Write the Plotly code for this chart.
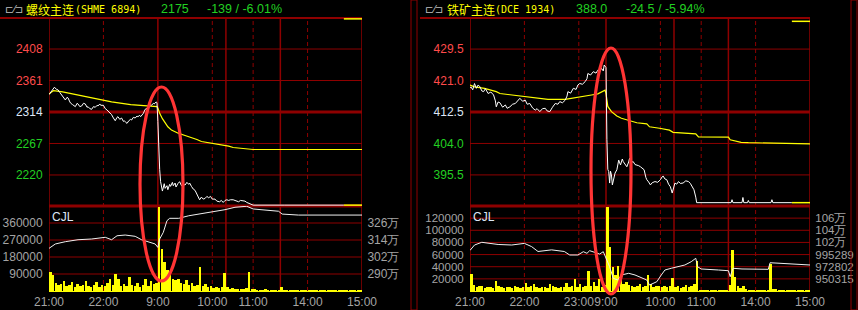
import plotly.graph_objects as go

W, H = 858, 310

# ---------------- LEFT PANEL DATA : 螺纹主连 (SHME 6894) ----------------
L_TITLE = "螺纹主连"
L_CODE = "(SHME 6894)"
L_LAST = "2175"
L_CHG = "-139 / -6.01%"
L_PREV = 2314
L_PRICE_TICKS = [2220, 2267, 2314, 2361, 2408]
L_PCT_TEXT = ["-4.06%", "-2.03%", "0.00%", "+2.03%", "+4.06%"]
L_VOL_TICKS = [90000, 180000, 270000, 360000]
L_OI_TICKS = [2900000, 3020000, 3140000, 3260000]
L_OI_TEXT = ["290万", "302万", "314万", "326万"]
L_XTICKS = [0, 60, 120, 180, 225, 285, 345]
L_XTEXT = ["21:00", "22:00", "9:00", "10:00", "11:00", "14:00", "15:00"]
L_SOLID = [0, 120, 195, 255, 345]
L_DASH = [60, 180, 225, 285]
L_LIMIT_T = [325, 345]
L_LIMIT_UP = 2453
L_LIMIT_DN = 2175

L_PRICE = [(0,2340),(1,2342),(3,2346),(6,2351),(8,2348),(10,2347),(12,2343),(14,2339),(16,2336),(18,2332),
           (20,2336),(21,2335),(23,2329),(24,2327),(26,2325),(29,2322),(31,2327),(32,2326),(34,2322),(36,2323),
           (38,2327),(40,2326),(42,2321),(43,2322),(45,2319),(47,2318),(49,2322),(51,2321),(53,2324),(54,2323),
           (56,2326),(57,2324),(60,2324),(62,2319),(64,2317),(66,2314),(68,2311),(69,2310),(71,2305),(73,2301),
           (75,2306),(76,2307),(78,2303),(80,2305),(82,2300),(83,2301),(85,2298),(86,2297),(88,2301),(90,2303),
           (91,2302),(93,2306),(95,2305),(97,2308),(98,2307),(100,2309),(101,2307),(103,2311),(104,2312),(106,2318),
           (108,2320),(110,2321),(112,2325),(113,2324),(115,2327),(116,2326),(118,2329),(119,2328),
           (120,2300),(121,2240),(122,2228),(123,2210),(124,2200),(125,2196),(127,2207),(128,2200),(130,2204),
           (131,2198),(133,2206),(134,2203),(136,2209),(137,2204),(139,2208),(140,2202),(142,2207),(144,2210),
           (146,2204),(148,2206),(150,2205),(152,2209),(154,2206),(155,2208),(157,2203),(159,2199),(161,2197),
           (163,2191),(166,2183),(168,2187),(170,2184),(172,2185),(174,2188),(176,2186),(178,2188),(180,2184),
           (183,2184),(185,2181),(188,2180),(190,2182),(192,2179),(194,2182),(196,2183),(198,2182),(200,2183),
           (203,2183),(205,2182),(207,2181),(209,2180),(211,2182),(214,2182),(216,2181),(218,2179),(220,2178),
           (222,2177),(225,2175),(260,2175),(300,2175),(325,2175)]

L_AVG = [(0,2341),(5,2346),(15,2344),(32,2339),(50,2334),(69,2329),(90,2325),(106,2323),(119,2322),(120,2320),
         (122,2312),(125,2304),(128,2297),(131,2292),(135,2287),(139,2284),(143,2282),(150,2279),(157,2276),
         (163,2273),(168,2270),(177,2268),(185,2266),(192,2265),(198,2263),(203,2261),(210,2260),(216,2260),
         (220,2259),(225,2258),(345,2258)]

L_OI = [(0,3081000),(7,3112000),(18,3128000),(32,3142000),(47,3147000),(62,3159000),(69,3142000),(75,3170000),
        (84,3175000),(95,3166000),(102,3142000),(109,3128000),(117,3112000),(120,3088000),(122,3147000),
        (126,3194000),(130,3276000),(133,3293000),(143,3293000),(154,3311000),(165,3323000),(179,3335000),
        (194,3354000),(205,3371000),(218,3378000),(225,3359000),(238,3352000),(253,3343000),(257,3323000),
        (275,3316000),(345,3316000)]

# volume, one value per 3-minute slot
L_VOL = [102000, 85000, 40000, 30000, 35000, 55000, 25000, 30000, 48000, 22000,
         35000, 28000, 30000, 55000, 25000, 20000, 32000, 48000, 22000, 30000,
         25000, 40000, 65000, 30000, 90000, 62000, 28000, 35000, 25000, 72000,
         30000, 26000, 45000, 20000, 30000, 62000, 28000, 55000, 35000, 40000,
         446000, 222000, 155000, 111000, 85000, 65000, 58000, 62000, 40000, 35000,
         58000, 30000, 45000, 25000, 30000, 125000, 28000, 38000, 22000, 25000,
         18000, 20000, 15000, 22000, 97000, 20000, 12000, 18000, 10000, 12000,
         8000, 10000, 15000, 102000, 6000, 8000, 5000, 4000, 3000, 9000,
         3000, 2000, 2000, 2000, 1000, 20000, 1500, 1000, 1000, 1000,
         1000, 1200, 1000, 1000, 1000, 1000, 1000, 1000, 1000, 1000,
         1000, 1000, 1000, 1000, 1000, 1000, 1000, 1000, 1000, 1000,
         1000, 1000, 1000, 1000, 1000]

# ---------------- RIGHT PANEL DATA : 铁矿主连 (DCE 1934) ----------------
R_TITLE = "铁矿主连"
R_CODE = "(DCE 1934)"
R_LAST = "388.0"
R_CHG = "-24.5 / -5.94%"
R_PREV = 412.5
R_PRICE_TICKS = [395.5, 404.0, 412.5, 421.0, 429.5]
R_PRICE_TEXT = ["395.5", "404.0", "412.5", "421.0", "429.5"]
R_PCT_TEXT = ["-4.12%", "-2.06%", "0.00%", "+2.06%", "+4.12%"]
R_VOL_TICKS = [20000, 40000, 60000, 80000, 100000, 120000]
R_OI_TICKS = [950315, 972802, 995289, 1017776, 1040263, 1062750]
R_OI_TEXT = ["950315", "972802", "995289", "102万", "104万", "106万"]
R_XTICKS = [0, 60, 120, 150, 210, 255, 315, 375]
R_XTEXT = ["21:00", "22:00", "23:00", "9:00", "10:00", "11:00", "14:00", "15:00"]
R_SOLID = [0, 150, 225, 285, 375]
R_DASH = [60, 120, 210, 255, 315]
R_LIMIT_T = [355, 375]
R_LIMIT_UP = 437.0
R_LIMIT_DN = 388.0

R_PRICE = [(0,419.0),(1,419.3),(3,418.5),(5,420.2),(7,418.9),(9,419.8),(11,419.3),(13,418.2),(15,418.0),
           (17,418.8),(20,417.5),(23,417.9),(26,417.1),(28,415.5),(29,413.9),(31,415.2),(33,415.0),(36,413.8),
           (39,414.4),(41,413.5),(44,413.9),(47,414.6),(50,414.8),(53,415.8),(55,416.2),(58,415.4),(61,415.7),
           (63,414.6),(66,414.8),(69,413.6),(72,413.0),(74,413.4),(77,412.6),(80,413.4),(83,413.5),(85,412.8),
           (88,412.6),(91,413.8),(94,414.8),(97,414.6),(99,415.3),(102,415.0),(105,415.7),(107,416.8),(108,418.0),
           (111,417.6),(114,418.9),(117,418.6),(119,419.8),(121,420.2),(124,420.0),(127,420.7),(129,421.5),
           (130,422.9),(133,422.5),(136,423.4),(139,423.0),(141,423.8),(143,423.4),(145,424.3),(147,423.6),
           (148,425.2),(150,424.5),(151,405.0),(152,397.0),(153,396.4),(154,393.3),(155,396.5),(156,395.5),
           (157,392.8),(158,394.2),(159,395.0),(160,396.0),(162,396.9),(164,399.5),(166,398.2),(168,399.8),
           (169,399.1),(171,398.5),(173,397.7),(175,399.0),(176,400.0),(178,398.9),(180,399.1),(182,398.3),
           (184,398.2),(186,398.0),(188,397.7),(190,397.2),(192,396.9),(194,394.8),(195,394.2),(197,393.6),
           (199,392.8),(201,393.4),(204,393.7),(207,393.5),(210,394.2),(212,395.0),(213,395.2),(215,394.4),
           (217,394.2),(219,393.0),(221,392.3),(223,390.6),(224,391.8),(226,393.3),(228,393.0),(230,393.7),
           (232,393.2),(235,393.3),(238,393.9),(241,393.7),(243,393.2),(244,392.8),(246,391.9),(247,391.5),
           (249,389.5),(250,388.0),(288,388.0),(289,388.8),(290,388.0),(300,388.0),(301,389.4),(302,388.0),
           (306,388.0),(307,388.6),(308,388.0),(332,388.0),(333,388.8),(334,388.0),(355,388.0)]

R_AVG = [(0,419.8),(5,419.3),(16,418.9),(29,418.0),(33,417.5),(53,416.9),(72,416.2),(86,415.9),(105,415.9),
         (119,416.4),(134,417.1),(141,417.4),(149,418.4),(150,417.5),(151,415.7),(152,414.0),(156,412.6),
         (162,411.4),(167,410.8),(176,410.2),(184,409.6),(195,409.3),(198,408.5),(209,408.1),(220,407.6),
         (224,407.0),(239,406.8),(249,406.6),(252,405.8),(285,405.7),(287,405.0),(299,404.3),(307,404.2),
         (330,404.1),(331,403.9),(375,403.9)]

R_OI = [(0,1003000),(1,1005000),(5,1013000),(13,1018000),(20,1016000),(31,1014000),(46,1013000),(60,1016000),
        (68,1010000),(75,1001000),(90,1004000),(104,1001000),(110,994500),(119,994500),(125,1000600),
        (129,997600),(132,1002500),(138,998800),(143,996300),(147,1000600),(150,988400),(154,972800),
        (158,951300),(163,948200),(167,957500),(175,960600),(182,957500),(189,953200),(195,948200),
        (198,938900),(206,945000),(211,957500),(215,966700),(222,969900),(230,972800),(237,976000),
        (244,982100),(249,988400),(251,972800),(255,968600),(274,966700),(285,965400),(287,954300),
        (290,969900),(300,968600),(329,968000),(331,980200),(375,976000)]

R_VOL = [28000, 10000, 6000, 9000, 8000, 5000, 6000, 7000, 5000, 17000,
         9000, 6000, 5000, 7000, 6000, 5000, 8000, 6000, 5000, 7000,
         13000, 6000, 8000, 12000, 6000, 5000, 7000, 6000, 5000, 11000,
         8000, 6000, 5000, 7000, 6000, 14000, 7000, 8000, 20000, 6000,
         12000, 7000, 9000, 33000, 8000, 15000, 9000, 20000, 7000, 10000,
         139000, 73000, 40000, 26000, 42000, 18000, 12000, 15000, 10000, 9000,
         7000, 8000, 12000, 6000, 9000, 26000, 11000, 7000, 9000, 8000,
         6000, 9000, 7000, 8000, 21000, 6000, 8000, 5000, 7000, 10000,
         6000, 8000, 12000, 50000, 1500, 1000, 1000, 800, 1000, 800,
         1000, 800, 1000, 800, 1000, 10000, 67000, 23000, 8000, 5000,
         9000, 3000, 1000, 1000, 800, 1000, 800, 1000, 800, 1000,
         45000, 4000, 3000, 800, 600, 600, 600, 600, 600, 600,
         600, 600, 600, 600, 600]

# ---------------- STYLE ----------------
BG = "#000000"
GRID = "#8e0000"
RED = "#ff4b4b"
GREEN = "#22d022"
WHITE_T = "#dde6f6"
GRAY = "#a4a4a4"
YELLOW = "#ffff00"
FONT = "Liberation Sans"
SLOT = 3

def px_x(p):
    return p / W

def px_y(p):
    return 1 - p / H

def colored(s, c):
    return f"<span style='color:{c}'>{s}</span>"

fig = go.Figure()

panels = [
    dict(price=L_PRICE, avg=L_AVG, oi=L_OI, vol=L_VOL, prev=L_PREV, pticks=L_PRICE_TICKS,
         ptext=[str(v) for v in L_PRICE_TICKS], pct=L_PCT_TEXT, vticks=L_VOL_TICKS,
         oticks=L_OI_TICKS, otext=L_OI_TEXT, xt=L_XTICKS, xtt=L_XTEXT, solid=L_SOLID, dash=L_DASH,
         lim_t=L_LIMIT_T, lim_up=L_LIMIT_UP, lim_dn=L_LIMIT_DN, xr=345, yr=(2173.7, 2454.3),
         vr=(0, 450000), orr=(2780000, 3380000), dom=(49, 362), frame=(0, 362), vfs=12,
         ax=("x", "y", "x2", "y2", "y5", "y7"),
         title=L_TITLE, code=L_CODE, last=L_LAST, chg=L_CHG, hx=(3, 24, 73, 159, 205)),
    dict(price=R_PRICE, avg=R_AVG, oi=R_OI, vol=R_VOL, prev=R_PREV, pticks=R_PRICE_TICKS,
         ptext=R_PRICE_TEXT, pct=R_PCT_TEXT, vticks=R_VOL_TICKS,
         oticks=R_OI_TICKS, otext=R_OI_TEXT, xt=R_XTICKS, xtt=R_XTEXT, solid=R_SOLID, dash=R_DASH,
         lim_t=R_LIMIT_T, lim_up=R_LIMIT_UP, lim_dn=R_LIMIT_DN, xr=375, yr=(387.1, 437.9),
         vr=(0, 140000), orr=(927828, 1085237), dom=(470, 810), frame=(420, 810), vfs=11.5,
         ax=("x3", "y3", "x4", "y4", "y6", "y8"),
         title=R_TITLE, code=R_CODE, last=R_LAST, chg=R_CHG, hx=(423, 445, 493, 574, 624)),
]

UP_DOM = [px_y(206), px_y(18)]
VOL_DOM = [px_y(291), px_y(206)]

shapes = []
annotations = []
layout_axes = {}

def axname(a):
    return a.replace("x", "xaxis").replace("y", "yaxis")

HIDE_TICK = dict(ticks="outside", tickcolor="rgba(0,0,0,0)", showgrid=False, zeroline=False,
                 automargin=False, fixedrange=True)

for P in panels:
    xa, ya, xv, yv, yo, yp = P["ax"]
    xdom = [px_x(P["dom"][0]), px_x(P["dom"][1])]

    pt = [p[0] for p in P["price"]]
    pv = [p[1] for p in P["price"]]
    at = [p[0] for p in P["avg"]]
    av = [p[1] for p in P["avg"]]
    ot = [p[0] for p in P["oi"]]
    ov = [p[1] for p in P["oi"]]
    vt = [i * SLOT + SLOT / 2 for i in range(len(P["vol"]))]

    fig.add_trace(go.Bar(x=vt, y=P["vol"], xaxis=xv, yaxis=yv, width=2.7,
                         marker=dict(color=YELLOW, line=dict(width=0)), showlegend=False))
    fig.add_trace(go.Scatter(x=ot, y=ov, xaxis=xv, yaxis=yo, mode="lines",
                             line=dict(color="#f0f0f0", width=1), showlegend=False))
    fig.add_trace(go.Scatter(x=at, y=av, xaxis=xa, yaxis=ya, mode="lines",
                             line=dict(color=YELLOW, width=1.2), showlegend=False))
    fig.add_trace(go.Scatter(x=pt, y=pv, xaxis=xa, yaxis=ya, mode="lines",
                             line=dict(color="#ffffff", width=1), showlegend=False))
    for lv in (P["lim_up"], P["lim_dn"]):
        fig.add_trace(go.Scatter(x=P["lim_t"], y=[lv, lv], xaxis=xa, yaxis=ya, mode="lines",
                                 line=dict(color=YELLOW, width=1.5), showlegend=False))

    tcol = [RED if v > P["prev"] else (WHITE_T if v == P["prev"] else GREEN) for v in P["pticks"]]
    tickfont = dict(family=FONT, size=12, color=GRAY)
    vfont = dict(family=FONT, size=P["vfs"], color=GRAY)

    layout_axes[axname(xa)] = dict(domain=xdom, range=[0, P["xr"]], anchor=ya, showticklabels=False,
                                   **HIDE_TICK)
    layout_axes[axname(xv)] = dict(domain=xdom, range=[0, P["xr"]], anchor=yv, matches=xa,
                                   tickvals=P["xt"], ticktext=P["xtt"], tickfont=tickfont,
                                   tickangle=0, ticklen=0, showline=True,
                                   linecolor=YELLOW, linewidth=1, **HIDE_TICK)
    layout_axes[axname(ya)] = dict(domain=UP_DOM, range=list(P["yr"]), anchor=xa,
                                   tickvals=P["pticks"],
                                   ticktext=[colored(t, c) for t, c in zip(P["ptext"], tcol)],
                                   tickfont=tickfont, ticklen=3, **HIDE_TICK)
    layout_axes[axname(yp)] = dict(overlaying=ya, anchor=xa, side="right", range=list(P["yr"]),
                                   tickvals=P["pticks"],
                                   ticktext=[colored(t, c) for t, c in zip(P["pct"], tcol)],
                                   tickfont=tickfont, ticklen=2, **HIDE_TICK)
    layout_axes[axname(yv)] = dict(domain=VOL_DOM, range=list(P["vr"]), anchor=xv,
                                   tickvals=P["vticks"], ticktext=[str(v) for v in P["vticks"]],
                                   tickfont=vfont, ticklen=3, **HIDE_TICK)
    layout_axes[axname(yo)] = dict(overlaying=yv, anchor=xv, side="right", range=list(P["orr"]),
                                   tickvals=P["oticks"], ticktext=P["otext"], tickfont=vfont,
                                   ticklen=2, **HIDE_TICK)

    # horizontal grid in price pane
    for v in P["pticks"]:
        shapes.append(dict(type="line", layer="below", xref=f"{xa} domain", x0=0, x1=1,
                           yref=ya, y0=v, y1=v,
                           line=dict(color=GRID, width=3 if v == P["prev"] else 1)))
    # horizontal grid in volume pane
    for v in P["vticks"]:
        shapes.append(dict(type="line", layer="below", xref=f"{xv} domain", x0=0, x1=1,
                           yref=yv, y0=v, y1=v, line=dict(color=GRID, width=1)))
    # pane separator
    shapes.append(dict(type="line", layer="below", xref=f"{xa} domain", x0=0, x1=1,
                       yref=f"{ya} domain", y0=0, y1=0, line=dict(color=GRID, width=3)))
    # top frame line
    shapes.append(dict(type="line", layer="below", xref="paper", x0=px_x(P["frame"][0]),
                       x1=px_x(P["frame"][1]), yref="paper", y0=px_y(18), y1=px_y(18),
                       line=dict(color=GRID, width=2)))
    # vertical session lines
    for t in P["solid"]:
        shapes.append(dict(type="line", layer="below", xref=xa, x0=t, x1=t, yref="paper",
                           y0=px_y(291), y1=px_y(18), line=dict(color=GRID, width=1.5)))
    for t in P["dash"]:
        shapes.append(dict(type="line", layer="below", xref=xa, x0=t, x1=t, yref="paper",
                           y0=px_y(291), y1=px_y(18), line=dict(color=GRID, width=1, dash="4px,3px")))

    # header
    hx = P["hx"]
    hy = px_y(9)
    annotations += [
        dict(x=px_x(hx[0]), y=hy, xref="paper", yref="paper", xanchor="left", yanchor="middle",
             text="⊏⁄⊐", showarrow=False, font=dict(family="DejaVu Sans", size=10, color="#c0c0c0")),
        dict(x=px_x(hx[1]), y=hy, xref="paper", yref="paper", xanchor="left", yanchor="middle",
             text=P["title"], showarrow=False,
             font=dict(family="Noto Sans CJK SC", size=12, color=YELLOW)),
        dict(x=px_x(hx[2]), y=hy, xref="paper", yref="paper", xanchor="left", yanchor="middle",
             text=P["code"], showarrow=False,
             font=dict(family="DejaVu Sans Mono", size=10, color=YELLOW)),
        dict(x=px_x(hx[3]), y=hy, xref="paper", yref="paper", xanchor="left", yanchor="middle",
             text=P["last"], showarrow=False, font=dict(family=FONT, size=12.5, color=GREEN)),
        dict(x=px_x(hx[4]), y=hy, xref="paper", yref="paper", xanchor="left", yanchor="middle",
             text=P["chg"], showarrow=False, font=dict(family=FONT, size=12.5, color=GREEN)),
        dict(x=0.004, y=1.0, xref=f"{xv} domain", yref=f"{yv} domain", xanchor="left", yanchor="top",
             text="CJL", showarrow=False, yshift=-2,
             font=dict(family=FONT, size=12, color=WHITE_T)),
    ]

# panel outer borders
for x0, x1 in ((411, 417), (851, 857)):
    shapes.append(dict(type="rect", layer="above", xref="paper", yref="paper",
                       x0=px_x(x0), x1=px_x(x1), y0=0, y1=1, line=dict(color=GRID, width=1)))

# red hand-drawn ellipses
for (x0, x1, y0, y1) in ((140, 183, 87, 281), (591, 631, 48, 294)):
    shapes.append(dict(type="circle", layer="above", xref="paper", yref="paper",
                       x0=px_x(x0), x1=px_x(x1), y0=px_y(y1), y1=px_y(y0),
                       line=dict(color="#ff3434", width=3.2)))

fig.update_layout(
    template="none",
    width=W, height=H, margin=dict(l=0, r=0, t=0, b=0, pad=0),
    paper_bgcolor=BG, plot_bgcolor=BG, bargap=0, showlegend=False,
    shapes=shapes, annotations=annotations, **layout_axes,
)

fig.write_html("out.html")
